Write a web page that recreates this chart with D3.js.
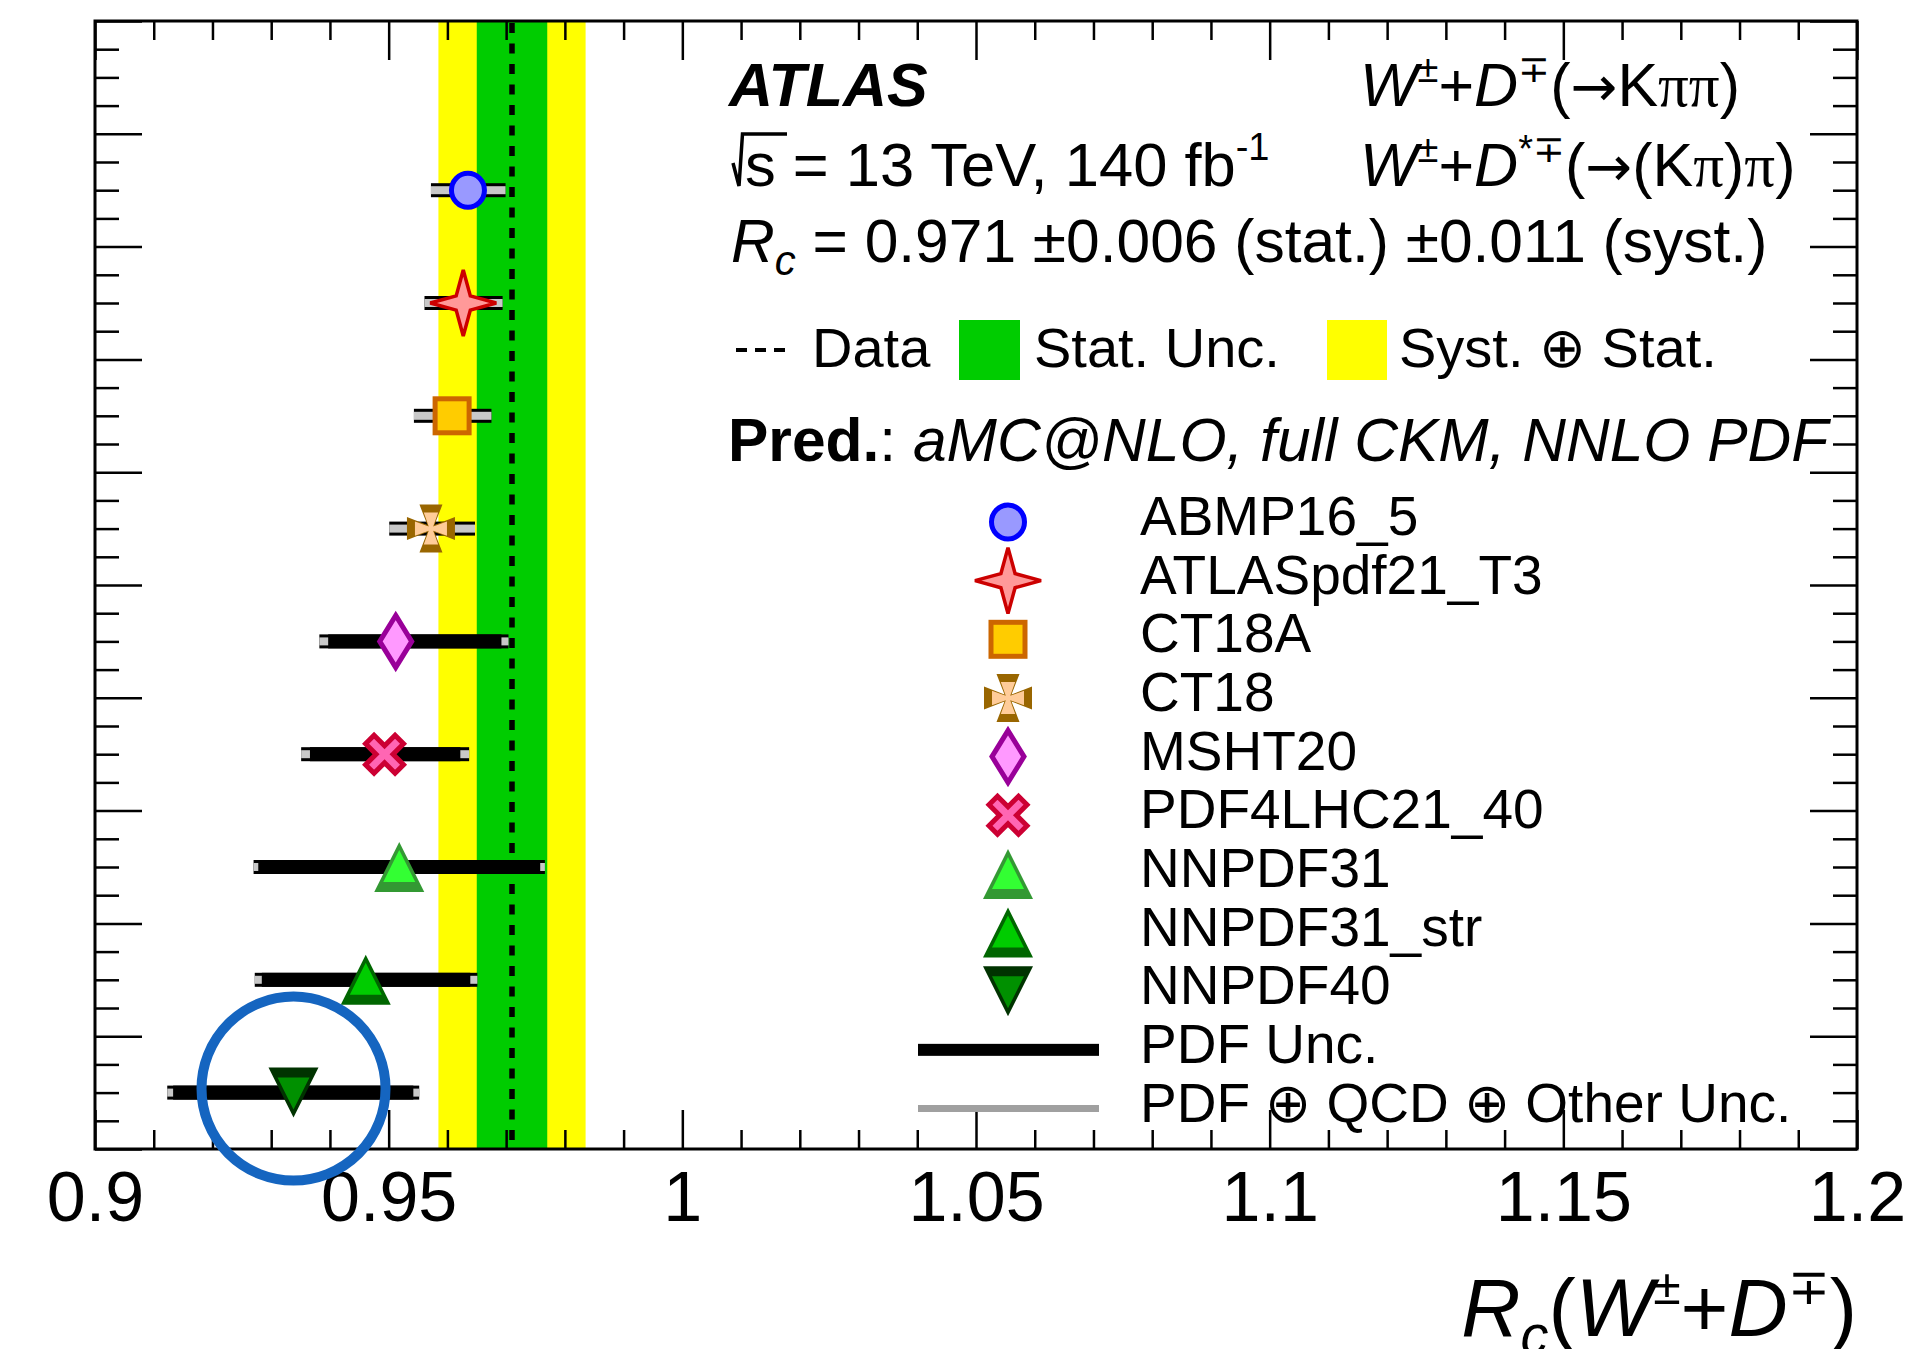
<!DOCTYPE html>
<html>
<head>
<meta charset="utf-8">
<script src="https://cdn.jsdelivr.net/npm/d3@7"></script>
<style>
  body { margin: 0; background: #fff; }
  svg { display: block; }
  text { font-family: "Liberation Sans", Arial, Helvetica, sans-serif; white-space: pre; fill: #000; }
</style>
</head>
<body>
<svg id="chart" width="1911" height="1349"></svg>
<script>
// Measured ratio Rc and its uncertainties
const rcValue = 0.971;
const rcStat = 0.006;
const rcSyst = 0.011;

// Predictions (aMC@NLO, full CKM) for each NNLO PDF set, top to bottom
const pdfSets = ["ABMP16_5", "ATLASpdf21_T3", "CT18A", "CT18", "MSHT20",
                 "PDF4LHC21_40", "NNPDF31", "NNPDF31_str", "NNPDF40"];
const central = [0.9635, 0.9627, 0.9608, 0.9572, 0.9512, 0.9493, 0.9518, 0.9461, 0.9338];
// PDF ⊕ QCD ⊕ other uncertainty band edges
const totalLow  = [0.9572, 0.9561, 0.9543, 0.9501, 0.9382, 0.9351, 0.9270, 0.9272, 0.9123];
const totalHigh = [0.9699, 0.9694, 0.9675, 0.9647, 0.9704, 0.9637, 0.9766, 0.9651, 0.9552];
// PDF-only uncertainty band edges
const pdfLow    = [0.9625, 0.9619, 0.9600, 0.9564, 0.9397, 0.9366, 0.9278, 0.9284, 0.9133];
const pdfHigh   = [0.9645, 0.9635, 0.9616, 0.9580, 0.9692, 0.9622, 0.9758, 0.9639, 0.9542];

// Axis ticks
const xMajorTicks = [0.9, 0.95, 1.0, 1.05, 1.1, 1.15, 1.2];
const xTickLabels = ["0.9", "0.95", "1", "1.05", "1.1", "1.15", "1.2"];

const svg = d3.select("#chart");
const frame = { left: 95, right: 1857, top: 21, bottom: 1149 };

const x = d3.scaleLinear().domain([0.9, 1.2]).range([frame.left, frame.right]);
const y = d3.scaleLinear().domain([0, 10]).range([frame.bottom, frame.top]);
const rowPos = i => pdfSets.length - 0.5 - i;

// Marker appearance per PDF set
const markerStyle = {
  "ABMP16_5":      { shape: "circle",  fill: "#9999ff", stroke: "#0000ff" },
  "ATLASpdf21_T3": { shape: "star",    fill: "#ff9999", stroke: "#cc0000" },
  "CT18A":         { shape: "square",  fill: "#ffcc00", stroke: "#cc6600" },
  "CT18":          { shape: "maltese", fill: "#ffcc99", stroke: "#996600" },
  "MSHT20":        { shape: "diamond", fill: "#ff99ff", stroke: "#990099" },
  "PDF4LHC21_40":  { shape: "xcross",  fill: "#ff66b3", stroke: "#cc0033" },
  "NNPDF31":       { shape: "triUp",   fill: "#33ff33", stroke: "#339933" },
  "NNPDF31_str":   { shape: "triUp",   fill: "#00cc00", stroke: "#006600" },
  "NNPDF40":       { shape: "triDown", fill: "#009000", stroke: "#003300" }
};

const poly = pts => "M" + pts.map(p => p.join(",")).join("L") + "Z";

function drawMarker(g, st, cx, cy) {
  const m = g.append("g").attr("transform", `translate(${cx},${cy})`);
  switch (st.shape) {
    case "circle":
      m.append("ellipse").attr("rx", 16.5).attr("ry", 17)
        .attr("fill", st.fill).attr("stroke", st.stroke).attr("stroke-width", 5);
      break;
    case "star": {
      const pts = d3.range(8).map(k => {
        const a = k * Math.PI / 4 - Math.PI / 2, r = k % 2 ? 10 : 33;
        return [r * Math.cos(a), r * Math.sin(a)];
      });
      m.append("path").attr("d", poly(pts)).attr("fill", st.fill)
        .attr("stroke", st.stroke).attr("stroke-width", 3.5).attr("stroke-miterlimit", 2);
      break;
    }
    case "square":
      m.append("rect").attr("x", -17).attr("y", -17).attr("width", 34).attr("height", 34)
        .attr("fill", st.fill).attr("stroke", st.stroke).attr("stroke-width", 5);
      break;
    case "maltese": {
      const cross = (R, w0, w1) => {
        const arm = [[-w0, -w0], [-w1, -R], [w1, -R], [w0, -w0]];
        const pts = [];
        for (let q = 0; q < 4; q++) {
          const a = q * Math.PI / 2, c = Math.cos(a), s = Math.sin(a);
          arm.forEach(([px, py]) => pts.push([px * c - py * s, px * s + py * c]));
        }
        return poly(pts);
      };
      m.append("path").attr("d", cross(24, 3.5, 11.5)).attr("fill", st.stroke);
      m.append("path").attr("d", cross(16, 2.2, 7.2)).attr("fill", st.fill);
      break;
    }
    case "diamond":
      m.append("path").attr("d", poly([[0, -26], [16, 0], [0, 26], [-16, 0]]))
        .attr("fill", st.fill).attr("stroke", st.stroke).attr("stroke-width", 5);
      break;
    case "xcross": {
      const a = 19, k = 8.5;
      const pts = [[-a, -a + k], [-a + k, -a], [0, -k], [a - k, -a], [a, -a + k], [k, 0],
                   [a, a - k], [a - k, a], [0, k], [-a + k, a], [-a, a - k], [-k, 0]];
      m.append("path").attr("d", poly(pts)).attr("fill", st.fill)
        .attr("stroke", st.stroke).attr("stroke-width", 5);
      break;
    }
    case "triUp":
    case "triDown": {
      const f = st.shape === "triUp" ? 1 : -1;
      m.append("path").attr("d", poly([[0, -25 * f], [25, 25 * f], [-25, 25 * f]])).attr("fill", st.stroke);
      m.append("path").attr("d", poly([[0, -17 * f], [16, 15 * f], [-16, 15 * f]])).attr("fill", st.fill);
      break;
    }
  }
}

// Rich text helper: parts with optional italic/bold/size/font/vertical shift
function rich(g, px, py, size, parts, anchor) {
  const t = g.append("text").attr("x", px).attr("y", py).attr("font-size", size)
    .attr("text-anchor", anchor || "start");
  let cur = 0;
  parts.forEach(p => {
    const sh = p.shift || 0;
    const ts = t.append("tspan").text(p.t).attr("dy", sh - cur);
    cur = sh;
    if (p.size) ts.attr("font-size", p.size);
    if (p.i) ts.attr("font-style", "italic");
    if (p.b) ts.attr("font-weight", "bold");
    if (p.font) ts.style("font-family", p.font);
  });
  return t;
}
const ARROW = "DejaVu Sans";
const GREEK = "Liberation Serif";

// ---- Measurement bands ----
const total = Math.sqrt(rcStat * rcStat + rcSyst * rcSyst);
const bands = svg.append("g");
bands.append("rect")
  .attr("x", x(rcValue - total)).attr("width", x(rcValue + total) - x(rcValue - total))
  .attr("y", frame.top).attr("height", frame.bottom - frame.top).attr("fill", "#ffff00");
bands.append("rect")
  .attr("x", x(rcValue - rcStat)).attr("width", x(rcValue + rcStat) - x(rcValue - rcStat))
  .attr("y", frame.top).attr("height", frame.bottom - frame.top).attr("fill", "#00cc00");
bands.append("line")
  .attr("x1", x(rcValue)).attr("x2", x(rcValue)).attr("y1", frame.top + 2).attr("y2", frame.bottom)
  .attr("stroke", "#000").attr("stroke-width", 5.5).attr("stroke-dasharray", "10 10.5");

// ---- Prediction error bars and markers ----
const preds = svg.append("g");
pdfSets.forEach((name, i) => {
  const yc = y(rowPos(i));
  preds.append("rect").attr("x", x(totalLow[i])).attr("width", x(totalHigh[i]) - x(totalLow[i]))
    .attr("y", yc - 7).attr("height", 14).attr("fill", "#000");
  preds.append("rect").attr("x", x(totalLow[i])).attr("width", x(totalHigh[i]) - x(totalLow[i]))
    .attr("y", yc - 4).attr("height", 8).attr("fill", "#c8c8c8");
  preds.append("rect").attr("x", x(pdfLow[i])).attr("width", x(pdfHigh[i]) - x(pdfLow[i]))
    .attr("y", yc - 7).attr("height", 14).attr("fill", "#000");
  drawMarker(preds, markerStyle[name], x(central[i]), yc);
});

// ---- Axes (ticks pointing inward on all four sides) ----
const xMinor = d3.range(0, 31).map(k => 0.9 + k * 0.01).filter(v => Math.abs(v * 20 - Math.round(v * 20)) > 1e-6);
const yMajor = d3.range(0, 11);
const yMinor = d3.range(0, 41).map(k => k * 0.25).filter(v => v % 1 !== 0);

function styleAxis(sel) {
  sel.select(".domain").remove();
  sel.selectAll(".tick line").attr("stroke", "#000").attr("stroke-width", 2.5);
}

const axes = svg.append("g");
axes.append("g").attr("transform", `translate(0,${frame.bottom})`)
  .call(d3.axisBottom(x).tickValues(xMinor).tickSize(-19).tickFormat(""))
  .call(styleAxis);
const xb = axes.append("g").attr("transform", `translate(0,${frame.bottom})`)
  .call(d3.axisBottom(x).tickValues(xMajorTicks).tickSize(-39)
    .tickFormat((d, i) => xTickLabels[i]))
  .call(styleAxis);
xb.selectAll(".tick text").attr("y", 72).attr("dy", null)
  .attr("font-size", 70).attr("font-family", null).attr("fill", "#000");
axes.append("g").attr("transform", `translate(0,${frame.top})`)
  .call(d3.axisTop(x).tickValues(xMinor).tickSize(-19).tickFormat(""))
  .call(styleAxis);
axes.append("g").attr("transform", `translate(0,${frame.top})`)
  .call(d3.axisTop(x).tickValues(xMajorTicks).tickSize(-39).tickFormat(""))
  .call(styleAxis);
axes.append("g").attr("transform", `translate(${frame.left},0)`)
  .call(d3.axisLeft(y).tickValues(yMinor).tickSize(-24).tickFormat(""))
  .call(styleAxis);
axes.append("g").attr("transform", `translate(${frame.left},0)`)
  .call(d3.axisLeft(y).tickValues(yMajor).tickSize(-47).tickFormat(""))
  .call(styleAxis);
axes.append("g").attr("transform", `translate(${frame.right},0)`)
  .call(d3.axisRight(y).tickValues(yMinor).tickSize(-24).tickFormat(""))
  .call(styleAxis);
axes.append("g").attr("transform", `translate(${frame.right},0)`)
  .call(d3.axisRight(y).tickValues(yMajor).tickSize(-47).tickFormat(""))
  .call(styleAxis);

axes.append("rect").attr("x", frame.left).attr("y", frame.top)
  .attr("width", frame.right - frame.left).attr("height", frame.bottom - frame.top)
  .attr("fill", "none").attr("stroke", "#000").attr("stroke-width", 3);

// Axis title
rich(svg, frame.right, 1336, 82, [
  { t: "R", i: true },
  { t: "c", i: true, size: 56, shift: 18 },
  { t: "(" },
  { t: "W", i: true },
  { t: "±", size: 50, shift: -32 },
  { t: "+" },
  { t: "D", i: true },
  { t: "∓", size: 50, shift: -32 },
  { t: ")" }
], "end");

// ---- Header text ----
const hdr = svg.append("g");
rich(hdr, 729, 106, 61, [{ t: "ATLAS", b: true, i: true }]);
rich(hdr, 1360, 106, 61, [
  { t: "W", i: true }, { t: "±", size: 38, shift: -24 }, { t: "+" },
  { t: "D", i: true }, { t: "∓", size: 38, shift: -24 }, { t: "(" },
  { t: "→", font: ARROW, size: 56 }, { t: "K" }, { t: "ππ", font: GREEK }, { t: ")" }
]);
// square-root sign drawn as a stroke, followed by its argument
hdr.append("path").attr("d", "M733,163 L739,186 L742.5,134 L787,134")
  .attr("fill", "none").attr("stroke", "#000").attr("stroke-width", 3.5)
  .attr("stroke-linejoin", "miter");
rich(hdr, 745, 186, 61.5, [
  { t: "s = 13 TeV, 140 fb" }, { t: "-1", size: 38, shift: -26 }
]);
rich(hdr, 1360, 186, 61, [
  { t: "W", i: true }, { t: "±", size: 38, shift: -24 }, { t: "+" },
  { t: "D", i: true }, { t: "*∓", size: 38, shift: -24 }, { t: "(" },
  { t: "→", font: ARROW, size: 56 }, { t: "(K" }, { t: "π", font: GREEK }, { t: ")" },
  { t: "π", font: GREEK }, { t: ")" }
]);
rich(hdr, 731, 262, 60.5, [
  { t: "R", i: true }, { t: "c", i: true, size: 42, shift: 13 },
  { t: " = 0.971 ±0.006 (stat.) ±0.011 (syst.)" }
]);

// Measurement legend row
hdr.append("line").attr("x1", 736).attr("x2", 785).attr("y1", 350).attr("y2", 350)
  .attr("stroke", "#000").attr("stroke-width", 4).attr("stroke-dasharray", "11 8");
rich(hdr, 812, 367, 56, [{ t: "Data" }]);
hdr.append("rect").attr("x", 959).attr("y", 320).attr("width", 61).attr("height", 60).attr("fill", "#00cc00");
rich(hdr, 1034, 367, 56, [{ t: "Stat. Unc." }]);
hdr.append("rect").attr("x", 1327).attr("y", 320).attr("width", 60).attr("height", 60).attr("fill", "#ffff00");
rich(hdr, 1399, 367, 56, [{ t: "Syst. ⊕ Stat." }]);

rich(hdr, 728, 461, 60.5, [
  { t: "Pred.", b: true }, { t: ": " }, { t: "aMC@NLO, full CKM, NNLO PDF", i: true }
]);

// ---- Prediction legend ----
const leg = svg.append("g");
const legRow = k => 522 + k * 58.65;
pdfSets.forEach((name, i) => {
  drawMarker(leg, markerStyle[name], 1008, legRow(i));
  rich(leg, 1140, legRow(i) + 13, 55, [{ t: name }]);
});
const kPdf = pdfSets.length, kTot = pdfSets.length + 1;
leg.append("rect").attr("x", 918).attr("y", legRow(kPdf) - 6).attr("width", 181).attr("height", 12).attr("fill", "#000");
rich(leg, 1140, legRow(kPdf) + 13, 55, [{ t: "PDF Unc." }]);
leg.append("rect").attr("x", 918).attr("y", legRow(kTot) - 3.5).attr("width", 181).attr("height", 7).attr("fill", "#a0a0a0");
rich(leg, 1140, legRow(kTot) + 13, 55, [{ t: "PDF ⊕ QCD ⊕ Other Unc." }]);

// Highlight ring around the NNPDF40 prediction
const hi = pdfSets.indexOf("NNPDF40");
svg.append("circle")
  .attr("cx", x(central[hi])).attr("cy", y(rowPos(hi)) - 4)
  .attr("r", 92).attr("fill", "none").attr("stroke", "#1565c0").attr("stroke-width", 10);
</script>
</body>
</html>
